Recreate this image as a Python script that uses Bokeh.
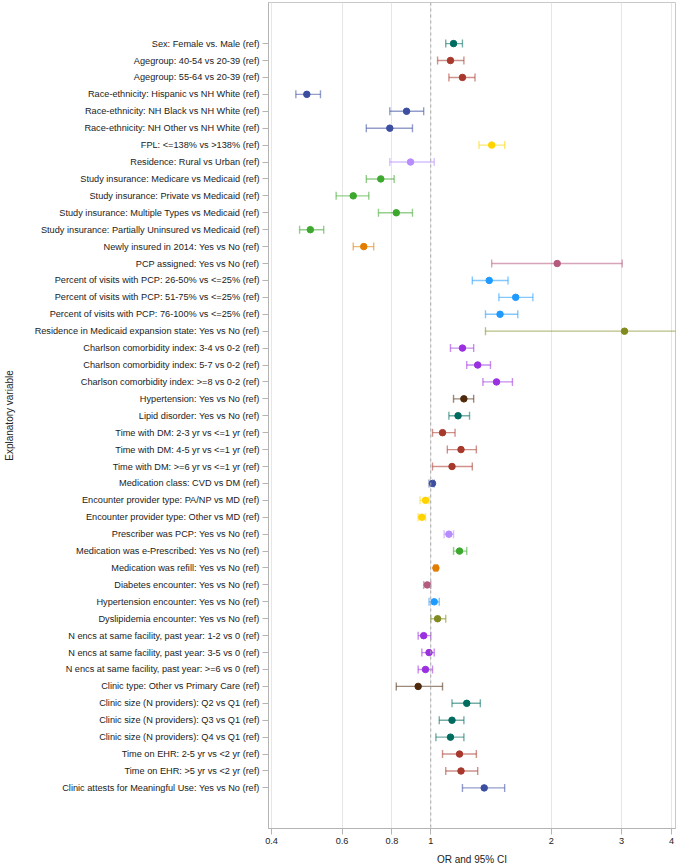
from bokeh.plotting import figure
from bokeh.models import Range1d, FixedTicker, Span, ColumnDataSource
from bokeh.embed import file_html
from bokeh.resources import INLINE
import math

labels = [
    "Sex: Female vs. Male (ref)",
    "Agegroup: 40-54 vs 20-39 (ref)",
    "Agegroup: 55-64 vs 20-39 (ref)",
    "Race-ethnicity: Hispanic vs NH White (ref)",
    "Race-ethnicity: NH Black vs NH White (ref)",
    "Race-ethnicity: NH Other vs NH White (ref)",
    "FPL: <=138% vs >138% (ref)",
    "Residence: Rural vs Urban (ref)",
    "Study insurance: Medicare vs Medicaid (ref)",
    "Study insurance: Private vs Medicaid (ref)",
    "Study insurance: Multiple Types vs Medicaid (ref)",
    "Study insurance: Partially Uninsured vs Medicaid (ref)",
    "Newly insured in 2014: Yes vs No (ref)",
    "PCP assigned: Yes vs No (ref)",
    "Percent of visits with PCP: 26-50% vs <=25% (ref)",
    "Percent of visits with PCP: 51-75% vs <=25% (ref)",
    "Percent of visits with PCP: 76-100% vs <=25% (ref)",
    "Residence in Medicaid expansion state: Yes vs No (ref)",
    "Charlson comorbidity index: 3-4 vs 0-2 (ref)",
    "Charlson comorbidity index: 5-7 vs 0-2 (ref)",
    "Charlson comorbidity index: >=8 vs 0-2 (ref)",
    "Hypertension: Yes vs No (ref)",
    "Lipid disorder: Yes vs No (ref)",
    "Time with DM: 2-3 yr vs <=1 yr (ref)",
    "Time with DM: 4-5 yr vs <=1 yr (ref)",
    "Time with DM: >=6 yr vs <=1 yr (ref)",
    "Medication class: CVD vs DM (ref)",
    "Encounter provider type: PA/NP vs MD (ref)",
    "Encounter provider type: Other vs MD (ref)",
    "Prescriber was PCP: Yes vs No (ref)",
    "Medication was e-Prescribed: Yes vs No (ref)",
    "Medication was refill: Yes vs No (ref)",
    "Diabetes encounter: Yes vs No (ref)",
    "Hypertension encounter: Yes vs No (ref)",
    "Dyslipidemia encounter: Yes vs No (ref)",
    "N encs at same facility, past year: 1-2 vs 0 (ref)",
    "N encs at same facility, past year: 3-5 vs 0 (ref)",
    "N encs at same facility, past year: >=6 vs 0 (ref)",
    "Clinic type: Other vs Primary Care (ref)",
    "Clinic size (N providers): Q2 vs Q1 (ref)",
    "Clinic size (N providers): Q3 vs Q1 (ref)",
    "Clinic size (N providers): Q4 vs Q1 (ref)",
    "Time on EHR: 2-5 yr vs <2 yr (ref)",
    "Time on EHR: >5 yr vs <2 yr (ref)",
    "Clinic attests for Meaningful Use: Yes vs No (ref)",
]

odds_ratio = [1.14, 1.12, 1.20, 0.49, 0.87, 0.79, 1.42, 0.89, 0.75, 0.64,
              0.82, 0.50, 0.68, 2.07, 1.40, 1.63, 1.49, 3.05, 1.20, 1.31,
              1.46, 1.21, 1.17, 1.07, 1.19, 1.13, 1.01, 0.97, 0.95, 1.11,
              1.18, 1.03, 0.98, 1.02, 1.04, 0.96, 0.99, 0.97, 0.93, 1.23,
              1.13, 1.12, 1.18, 1.19, 1.36]

ci_lower = [1.09, 1.04, 1.11, 0.46, 0.79, 0.69, 1.32, 0.79, 0.69, 0.58,
            0.74, 0.47, 0.64, 1.42, 1.27, 1.48, 1.37, 1.37, 1.12, 1.23,
            1.35, 1.14, 1.11, 1.01, 1.10, 1.01, 0.99, 0.94, 0.93, 1.08,
            1.14, 1.02, 0.96, 0.99, 1.00, 0.93, 0.95, 0.93, 0.82, 1.13,
            1.05, 1.03, 1.07, 1.09, 1.20]

ci_upper = [1.20, 1.21, 1.29, 0.53, 0.96, 0.90, 1.53, 1.02, 0.81, 0.70,
            0.90, 0.54, 0.72, 3.01, 1.56, 1.80, 1.65, 6.80, 1.28, 1.41,
            1.60, 1.28, 1.25, 1.15, 1.30, 1.27, 1.02, 0.99, 0.97, 1.14,
            1.23, 1.04, 1.00, 1.05, 1.09, 1.00, 1.02, 1.01, 1.07, 1.33,
            1.21, 1.21, 1.30, 1.31, 1.53]

x_ticks = [0.4, 0.6, 0.8, 1, 2, 3, 4]
x_tick_labels = ["0.4", "0.6", "0.8", "1", "2", "3", "4"]

# group colours (one per explanatory variable)
teal, red, blue, yellow = "#006b5f", "#a8382c", "#3b4ea0", "#ffd400"
lilac, green, orange, mauve = "#b68cff", "#3da82e", "#e17d00", "#b55a7f"
sky, olive, purple, brown = "#1f9bff", "#808a1e", "#9b30e0", "#4f2a0c"
row_colors = ([teal] + [red] * 2 + [blue] * 3 + [yellow] + [lilac] + [green] * 4
              + [orange] + [mauve] + [sky] * 3 + [olive] + [purple] * 3 + [brown]
              + [teal] + [red] * 3 + [blue] + [yellow] * 2 + [lilac] + [green]
              + [orange] + [mauve] + [sky] + [olive] + [purple] * 3 + [brown]
              + [teal] * 3 + [red] * 2 + [blue])

rows = list(range(1, len(labels) + 1))
src = ColumnDataSource(dict(y=rows, orv=odds_ratio, lo=ci_lower, hi=ci_upper, c=row_colors))

FONT = "Liberation Sans"

p = figure(width=678, height=867, x_axis_type="log",
           x_range=Range1d(0.393, 4.09), y_range=Range1d(47.40, -1.43),
           output_backend="svg", toolbar_location=None,
           min_border_top=2, min_border_right=3, min_border_left=0, min_border_bottom=0)

p.outline_line_color = "#c8c8c8"
p.background_fill_color = "white"
p.ygrid.grid_line_color = None
p.xgrid.grid_line_color = "#e6e6e6"
p.xgrid.ticker = FixedTicker(ticks=x_ticks)

p.xaxis.ticker = FixedTicker(ticks=x_ticks)
p.xaxis.major_label_overrides = {t: s for t, s in zip(x_ticks, x_tick_labels)}
p.yaxis.ticker = FixedTicker(ticks=rows)
p.yaxis.major_label_overrides = {r: l for r, l in zip(rows, labels)}

for ax in (p.xaxis, p.yaxis):
    ax.axis_line_color = "#b4b4b4"
    ax.major_tick_line_color = "#b4b4b4"
    ax.minor_tick_line_color = None
    ax.major_tick_in = 0
    ax.major_tick_out = 6
    ax.major_label_text_font = FONT
    ax.major_label_text_font_size = "9.2px"
    ax.major_label_text_color = "#222222"
    ax.axis_label_text_font = FONT
    ax.axis_label_text_font_size = "10px"
    ax.axis_label_text_font_style = "normal"
    ax.axis_label_text_color = "#222222"

p.xaxis.axis_label = "OR and 95% CI"
p.yaxis.axis_label = "Explanatory variable"
p.yaxis.major_label_standoff = 3
p.xaxis.major_label_standoff = 3
p.xaxis.axis_label_standoff = 7
p.yaxis.axis_label_standoff = 17

p.add_layout(Span(location=1, dimension="height", line_color="#aaaaaa",
                  line_dash="3 3", line_width=1))

# CI lines and caps
p.segment(x0="lo", x1="hi", y0="y", y1="y", source=src, line_color="c",
          line_alpha=0.55, line_width=1.4)
p.scatter(x="lo", y="y", source=src, marker="dash", size=8, angle=math.pi / 2,
          line_color="c", line_alpha=0.55, line_width=1.4)
p.scatter(x="hi", y="y", source=src, marker="dash", size=8, angle=math.pi / 2,
          line_color="c", line_alpha=0.55, line_width=1.4)
# point estimates
p.scatter(x="orv", y="y", source=src, marker="circle", size=6.5,
          fill_color="c", line_color="c")

open("out.html", "w").write(file_html(p, INLINE))
